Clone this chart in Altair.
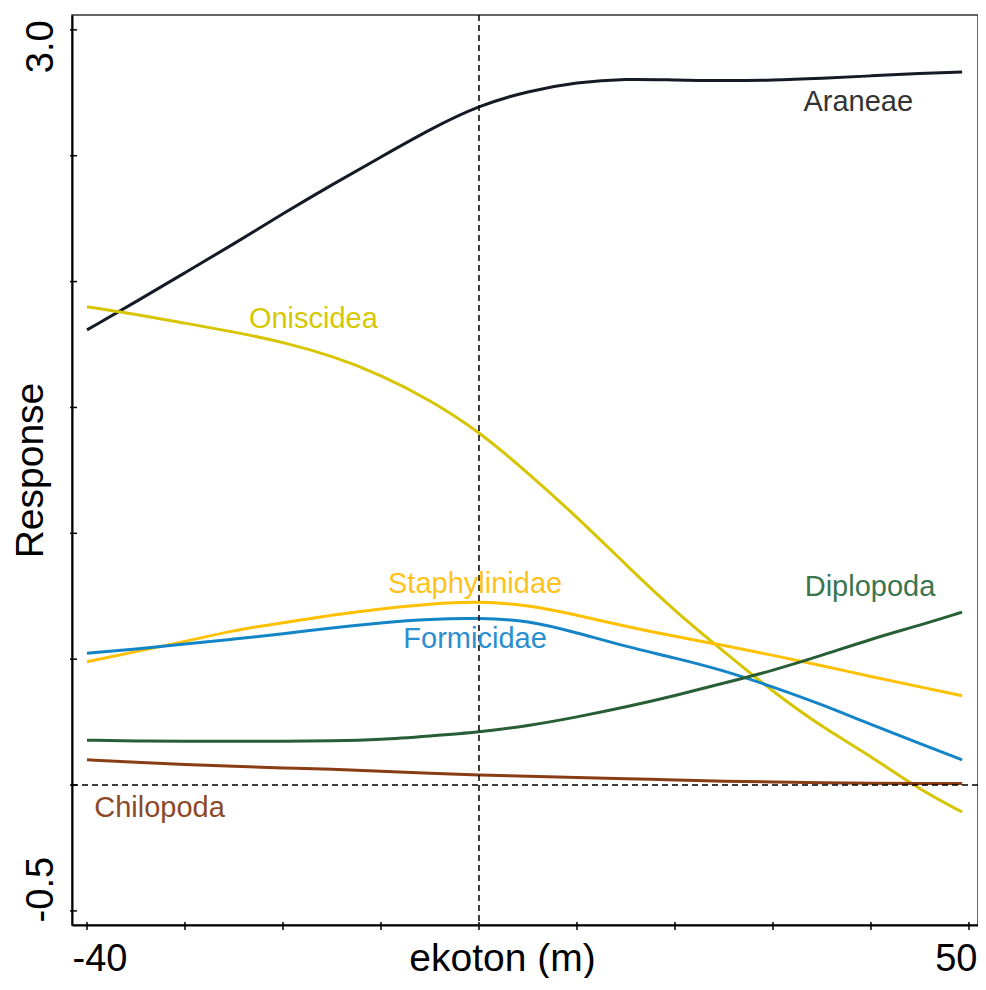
import altair as alt
import pandas as pd

# ---- data ----
x_vals = [-40, -35, -30, -25, -20, -15, -10, -5, 0, 5, 10, 15, 20, 25, 30, 35, 40, 45, 49.3]

araneae = [1.808, 1.92, 2.035, 2.15, 2.27, 2.385, 2.495, 2.605, 2.70, 2.757, 2.792, 2.806, 2.80,
           2.798, 2.80, 2.808, 2.817, 2.827, 2.833]
oniscidea = [1.90, 1.87, 1.835, 1.80, 1.76, 1.705, 1.63, 1.53, 1.405, 1.24, 1.065, 0.875, 0.69,
             0.53, 0.37, 0.23, 0.115, -0.02, -0.107]
staphylinidae = [0.49, 0.53, 0.57, 0.615, 0.645, 0.675, 0.70, 0.72, 0.73, 0.715, 0.675, 0.63, 0.59,
                 0.555, 0.515, 0.475, 0.43, 0.39, 0.355]
formicidae = [0.524, 0.54, 0.56, 0.58, 0.60, 0.625, 0.645, 0.66, 0.663, 0.655, 0.605, 0.55, 0.505,
              0.455, 0.39, 0.32, 0.24, 0.165, 0.10]
diplopoda = [0.178, 0.175, 0.174, 0.174, 0.174, 0.175, 0.18, 0.195, 0.21, 0.235, 0.27, 0.31, 0.355,
             0.405, 0.455, 0.515, 0.58, 0.635, 0.687]
chilopoda = [0.10, 0.09, 0.081, 0.074, 0.068, 0.063, 0.055, 0.047, 0.04, 0.035, 0.03, 0.025, 0.02,
             0.015, 0.012, 0.009, 0.007, 0.006, 0.006]

taxa = ["Araneae", "Oniscidea", "Staphylinidae", "Formicidae", "Diplopoda", "Chilopoda"]
series = [araneae, oniscidea, staphylinidae, formicidae, diplopoda, chilopoda]
line_colors = ["#141a26", "#d6c500", "#ffc000", "#1384c6", "#285e36", "#8a3c14"]
label_colors = ["#333333", "#d6c800", "#ffc21a", "#2a8fd0", "#3b7550", "#8b4a2a"]
label_x = [38.7, -16.9, -0.4, -0.4, 39.9, -32.6]
label_y = [2.678, 1.816, 0.763, 0.544, 0.751, -0.127]

x_ticks = [-40, -30, -20, -10, 0, 10, 20, 30, 40, 50]
y_ticks = [-0.5, 0.0, 0.5, 1.0, 1.5, 2.0, 2.5, 3.0]
x_label_left = [-40]
x_label_right = [50]
y_label_top = [3.0]
y_label_bottom = [-0.5]
x_domain = [-41.53, 50.92]
y_domain = [-0.556, 3.059]

W, H = 906, 910
FONT = "Liberation Sans"
HYPHEN = "replace(datum.label, '\u2212', '-')"

# ---- tables ----
rows = []
for name, vals, col in zip(taxa, series, line_colors):
    for xv, yv in zip(x_vals, vals):
        rows.append({"x": xv, "y": yv, "taxon": name, "col": col})
lines_df = pd.DataFrame(rows)
labels_df = pd.DataFrame({"x": label_x, "y": label_y, "taxon": taxa, "col": label_colors})
xt_df = pd.DataFrame({"x": x_ticks})
yt_df = pd.DataFrame({"y": y_ticks})
zero_x = pd.DataFrame({"x": [0]})
zero_y = pd.DataFrame({"y": [0]})

xs = alt.Scale(domain=x_domain, nice=False, zero=False)
ys = alt.Scale(domain=y_domain, nice=False, zero=False)

common_x = dict(orient="bottom", ticks=False, grid=False, labelFont=FONT, labelFontSize=38,
                labelColor="black", labelPadding=45, labelBaseline="alphabetic",
                labelFlush=False, labelOverlap=False, labelExpr=HYPHEN)
x_axis_left = alt.Axis(
    values=x_label_left, domainColor="black", domainWidth=2,
    labelAlign="left", labelOffset=-15,
    title="ekoton (m)", titleFont=FONT, titleFontSize=39, titleFontWeight="normal",
    titleColor="black", titleX=430, titleY=45, titleAlign="center",
    titleBaseline="alphabetic", **common_x)
x_axis_right = alt.Axis(
    values=x_label_right, domain=False, title=None,
    labelAlign="right", labelOffset=8, **common_x)

common_y = dict(orient="left", ticks=False, grid=False, format=".1f", labelFont=FONT,
                labelFontSize=38, labelColor="black", labelAngle=270, labelPadding=20,
                labelBaseline="alphabetic", labelFlush=False, labelOverlap=False,
                labelExpr=HYPHEN)
y_axis_top = alt.Axis(
    values=y_label_top, domainColor="black", domainWidth=2,
    labelAlign="right", labelOffset=-10,
    title="Response", titleFont=FONT, titleFontSize=39, titleFontWeight="normal",
    titleColor="black", titleAngle=270, titleX=-30, titleY=455, titleAlign="center",
    titleBaseline="alphabetic", **common_y)
y_axis_bottom = alt.Axis(
    values=y_label_bottom, domain=False, title=None,
    labelAlign="left", labelOffset=11, **common_y)

lines = alt.Chart(lines_df).mark_line(strokeWidth=3, interpolate="basis").encode(
    x=alt.X("x:Q", scale=xs, axis=x_axis_left),
    y=alt.Y("y:Q", scale=ys, axis=y_axis_top),
    color=alt.Color("col:N", scale=None, legend=None),
    detail="taxon:N",
)

zx = alt.Chart(zero_x).mark_rule(color="black", strokeWidth=1.5, strokeDash=[6, 4]).encode(
    x=alt.X("x:Q", scale=xs, axis=x_axis_right))
zy = alt.Chart(zero_y).mark_rule(color="black", strokeWidth=1.5, strokeDash=[6, 4]).encode(
    y=alt.Y("y:Q", scale=ys, axis=y_axis_bottom))

texts = alt.Chart(labels_df).mark_text(font=FONT, fontSize=29, align="center",
                                       baseline="alphabetic").encode(
    x=alt.X("x:Q", scale=xs, axis=None),
    y=alt.Y("y:Q", scale=ys, axis=None),
    text="taxon:N",
    color=alt.Color("col:N", scale=None, legend=None),
)

xticks = alt.Chart(xt_df).mark_rule(color="black", strokeWidth=1.5).encode(
    x=alt.X("x:Q", scale=xs, axis=None),
    y=alt.value(H - 3), y2=alt.value(H + 5))
yticks = alt.Chart(yt_df).mark_rule(color="black", strokeWidth=1.5).encode(
    y=alt.Y("y:Q", scale=ys, axis=None),
    x=alt.value(-2), x2=alt.value(5))

chart = alt.layer(lines, zx, zy, texts, xticks, yticks).resolve_axis(
    x="independent", y="independent").properties(
    width=W, height=H,
    autosize=alt.AutoSizeParams(type="none"),
    padding={"left": 64, "top": 7, "right": 0, "bottom": 53},
).configure(
    font=FONT, background="white",
    view=alt.ViewConfig(stroke="#333333", strokeWidth=1.5),
)

chart.save("out.html", embed_options={"renderer": "svg", "actions": False})
